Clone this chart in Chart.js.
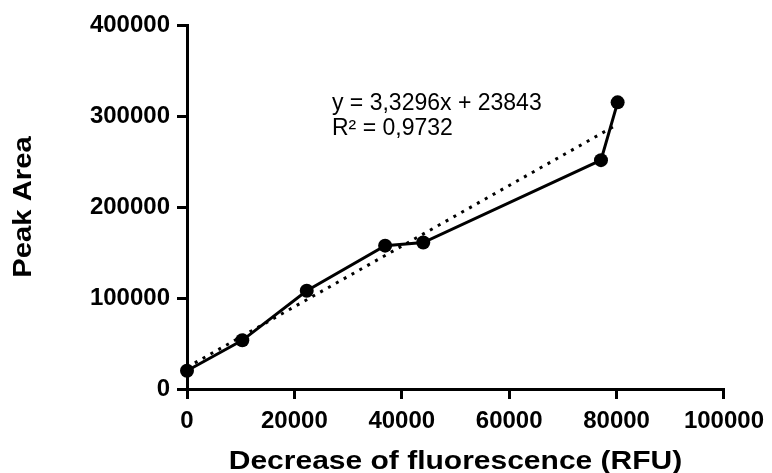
<!DOCTYPE html>
<html>
<head>
<meta charset="utf-8">
<script src="https://cdn.jsdelivr.net/npm/chart.js@4.4.1/dist/chart.umd.min.js"></script>
<style>
  html, body { margin: 0; padding: 0; background: #fff; }
  #wrap { width: 772px; height: 473px; }
</style>
</head>
<body>
<div id="wrap"><canvas id="myChart" width="772" height="473"></canvas></div>
<script>
// measured points
var rfu = [0, 10300, 22300, 36900, 44000, 77100, 80200];
var peakArea = [20000, 53500, 108000, 157500, 161000, 251500, 315000];

// linear trendline end points (y = 3,3296x + 23843)
var trendX = [0, 80200];
var trendY = [23843, 290877];

var xTicks = [0, 20000, 40000, 60000, 80000, 100000];
var yTicks = [0, 100000, 200000, 300000, 400000];

var xTitle = 'Decrease of fluorescence (RFU)';
var yTitle = 'Peak Area';
var eqLines = ['y = 3,3296x + 23843', 'R\u00b2 = 0,9732'];

var FONT = '"Liberation Sans", Arial, sans-serif';

function toXY(xs, ys) {
    return xs.map(function (x, i) { return {x: x, y: ys[i]}; });
}

// equation text next to the trendline + the (wide) axis titles
var textLayer = {
    id: 'textLayer',
    afterDatasetsDraw: function (chart) {
        var c = chart.ctx;
        var a = chart.chartArea;
        var x = chart.scales.x.getPixelForValue(27000);
        var y = chart.scales.y.getPixelForValue(314000);
        c.save();
        c.fillStyle = '#000';
        c.font = '23px ' + FONT;
        c.textAlign = 'left';
        c.textBaseline = 'middle';
        eqLines.forEach(function (t, i) {
            c.fillText(t, x, y + i * 25);
        });

        c.font = 'bold 25px ' + FONT;
        c.textAlign = 'center';
        c.textBaseline = 'middle';
        // x title
        c.save();
        c.translate((a.left + a.right) / 2, 462);
        c.scale(1.2, 1);
        c.fillText(xTitle, 0, 0);
        c.restore();
        // y title
        c.save();
        c.translate(24, (a.top + a.bottom) / 2);
        c.rotate(-Math.PI / 2);
        c.scale(1.17, 1);
        c.fillText(yTitle, 0, 0);
        c.restore();
        c.restore();
    }
};

var ctx = document.getElementById('myChart').getContext('2d');
var chart = new Chart(ctx, {
    type: 'scatter',
    data: {
        datasets: [{
            label: 'Peak Area',
            data: toXY(rfu, peakArea),
            showLine: true,
            borderColor: '#000',
            backgroundColor: '#000',
            borderWidth: 3,
            pointRadius: 7,
            pointHoverRadius: 7,
            pointBorderWidth: 0,
            clip: false,
            order: 0
        }, {
            label: 'Linear fit',
            data: toXY(trendX, trendY),
            showLine: true,
            borderColor: '#000',
            borderWidth: 3,
            borderDash: [3, 6],
            borderCapStyle: 'butt',
            pointRadius: 0,
            clip: false,
            order: 1
        }]
    },
    options: {
        responsive: false,
        animation: false,
        layout: {padding: {top: 25, right: 46, left: 0, bottom: 0}},
        plugins: {
            legend: {display: false},
            tooltip: {enabled: false}
        },
        scales: {
            x: {
                type: 'linear',
                min: 0,
                max: 100000,
                afterBuildTicks: function (s) { s.ticks = xTicks.map(function (v) { return {value: v}; }); },
                afterFit: function (s) { s.height = 84; },
                ticks: {
                    color: '#000',
                    padding: 8,
                    maxRotation: 0,
                    font: {family: FONT, size: 24, weight: 'bold'},
                    callback: function (v) { return String(v); }
                },
                grid: {drawOnChartArea: false, color: '#000', lineWidth: 3, tickLength: 10},
                border: {color: '#000', width: 3}
            },
            y: {
                type: 'linear',
                min: 0,
                max: 400000,
                afterBuildTicks: function (s) { s.ticks = yTicks.map(function (v) { return {value: v}; }); },
                afterFit: function (s) { s.width = 187; },
                ticks: {
                    color: '#000',
                    padding: 7,
                    font: {family: FONT, size: 24, weight: 'bold'},
                    callback: function (v) { return String(v); }
                },
                grid: {drawOnChartArea: false, color: '#000', lineWidth: 3, tickLength: 10},
                border: {color: '#000', width: 3}
            }
        }
    },
    plugins: [textLayer]
});
</script>
</body>
</html>
